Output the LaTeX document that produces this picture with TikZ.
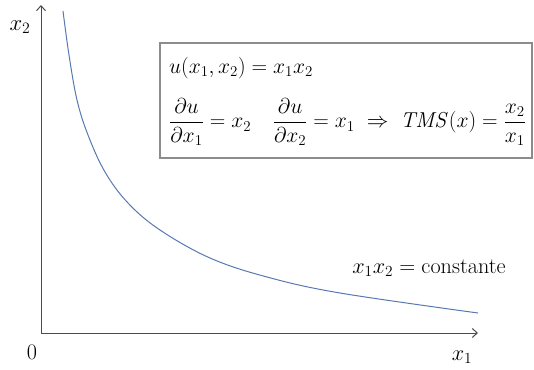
\documentclass[tikz,border=0pt]{standalone}
\usepackage{amsmath}
\usetikzlibrary{arrows.meta}
\definecolor{curveblue}{RGB}{88,120,178}
\begin{document}
\begin{tikzpicture}[x=1pt,y=-1pt,
  axis/.style={draw=black!70,line width=1pt,-{Straight Barb[length=5pt,width=9pt]}},
  lbl/.style={inner sep=0pt,font=\fontsize{20.74}{25}\selectfont},
  curve/.style={draw=curveblue,line width=1pt},
  formbox/.style={draw=black!45,line width=1.1pt}]
\useasboundingbox (0,0) rectangle (534,369);
\coordinate (O) at (41,333);
\coordinate (Ytip) at (41,5);
\coordinate (Xtip) at (478,333);
\draw[axis] (O) -- (Ytip);
\draw[axis] (O) -- (Xtip);
\node[lbl] (x2lab) at (20,27) {\scalebox{1.1}{$x_2$}};
\node[lbl] (zero) at (32,352) {\scalebox{1.07}{$0$}};
\node[lbl] (x1lab) at (462,357) {\scalebox{1.07}{$x_1$}};
\draw[curve] plot[smooth,tension=0.6] coordinates {(63,11) (69,55) (77,100) (88,135) (105,172) (128,203) (160,230) (210,258) (267,277) (340,293) (478,313)};
\node[lbl,anchor=center] (const) at (429,268) {\scalebox{1.07}{$x_1x_2 = \text{constante}$}};
\draw[formbox] (160,43) rectangle (532,158);
\node[lbl,anchor=base west] (f1) at (169,73) {\scalebox{1.04}{$u(x_1,x_2) = x_1x_2$}};
\node[lbl,anchor=west] (f2) at (169,122) {\scalebox{1.04}{$\dfrac{\partial u}{\partial x_1} = x_2 \quad \dfrac{\partial u}{\partial x_2} = x_1 \;\Rightarrow\; \mathit{TMS}(x) = \dfrac{x_2}{x_1}$}};
\end{tikzpicture}
\end{document}
